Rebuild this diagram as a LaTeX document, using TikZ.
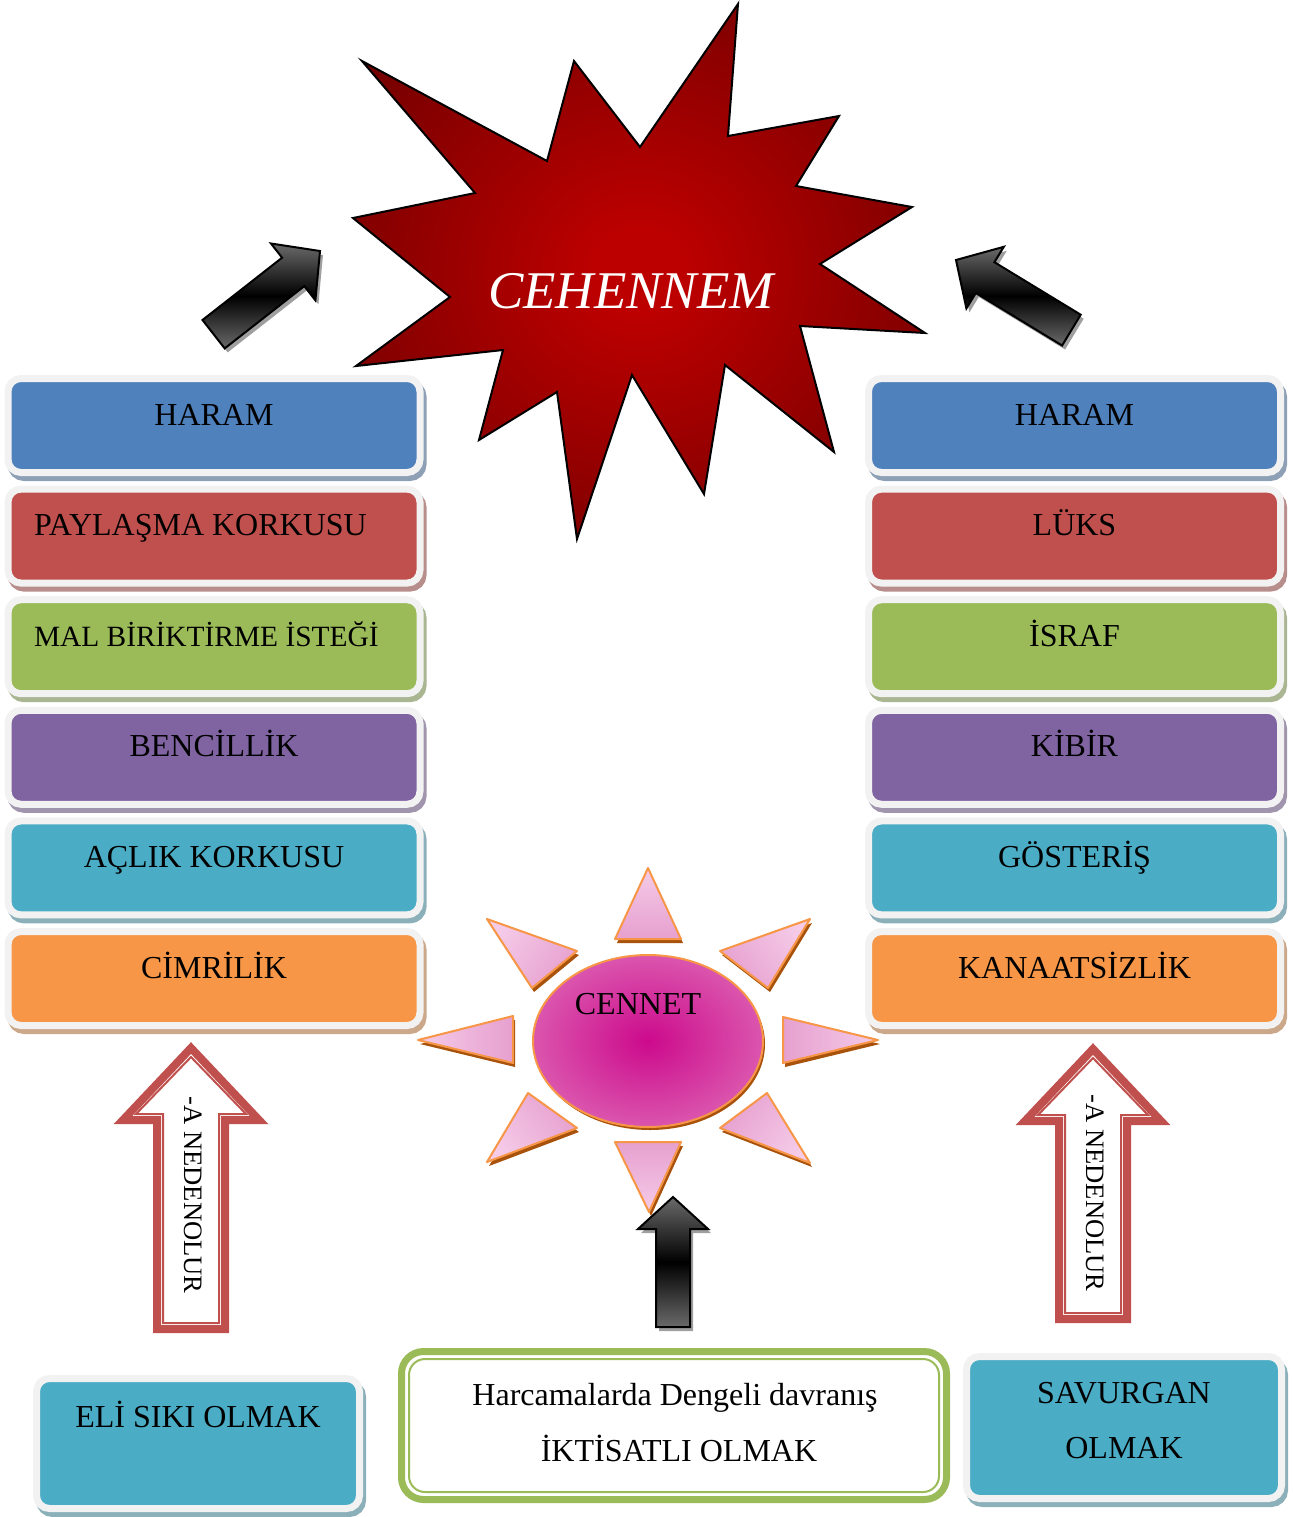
\documentclass[tikz,border=0pt]{standalone}
\usepackage{fontspec}
\setmainfont{Liberation Serif}
\usetikzlibrary{positioning}

\definecolor{mavi}{HTML}{4F81BD}
\definecolor{kirmizi}{HTML}{C0504D}
\definecolor{yesil}{HTML}{9BBB59}
\definecolor{mor}{HTML}{8064A2}
\definecolor{turkuaz}{HTML}{4BACC6}
\definecolor{turuncu}{HTML}{F79646}
\definecolor{cerceve}{HTML}{F2F2F2}
\definecolor{cehic}{HTML}{BC0000}
\definecolor{cehdis}{HTML}{6A0000}
\definecolor{cenic}{HTML}{CC0A8C}
\definecolor{cendis}{HTML}{E9A0CE}
\definecolor{ucgenac}{HTML}{F5CBE8}
\definecolor{ucgenkoyu}{HTML}{E6A0CF}
\definecolor{golgeturuncu}{HTML}{A8520C}
\definecolor{koyugri}{HTML}{6A6A6A}

\pgfdeclareradialshading{cehennemrenk}{\pgfpoint{0bp}{0bp}}{color(0bp)=(cehic); color(4bp)=(cehic); color(34bp)=(cehdis); color(50bp)=(cehdis)}
\pgfdeclareradialshading{cennetrenk}{\pgfpoint{0bp}{0bp}}{color(0bp)=(cenic); color(50bp)=(cendis)}

\newcommand\kutuyazi{\fontsize{16pt}{19pt}\selectfont}
\newcommand\okyazi{\fontsize{13.3pt}{16pt}\selectfont}
\newcommand\cehyazi{\fontsize{26.5pt}{30pt}\selectfont\itshape}
\newcommand\soldayaz[1]{\makebox[180pt][l]{#1}}

\begin{document}
\begin{tikzpicture}[x=0.5pt,y=-0.5pt,
 kutu/.style={draw=cerceve, fill=#1, line width=3.5pt, rounded corners=6.5pt, outer sep=0pt, inner sep=0pt,
  minimum width=206pt, minimum height=47pt, text height=23.25pt, text depth=23.75pt, font=\kutuyazi,
  preaction={draw=#1!50!gray!75!white, fill=#1!50!gray!75!white, transform canvas={shift={(1.5pt,-2.5pt)}}}},
 yazi/.style={font=\kutuyazi, anchor=base, inner sep=0pt},
 dengeli/.style={draw=yesil, fill=white, line width=3.5pt, rounded corners=11pt, outer sep=0pt,
  minimum width=272.5pt, minimum height=74pt},
 ucgen/.style={draw=turuncu, line width=1pt, line join=round, top color=ucgenac, bottom color=ucgenkoyu, shading angle=#1,
  preaction={fill=golgeturuncu, transform canvas={shift={(1pt,-2pt)}}}},
 siyahok/.style={draw=black, line width=1pt, line join=miter, top color=koyugri, bottom color=koyugri, middle color=black,
  preaction={fill=gray!75, transform canvas={shift={(1.5pt,-2pt)}}}},
 kalinok/.style={draw=kirmizi, line width=4pt, line join=miter, fill=white},
 inceok/.style={draw=kirmizi, line width=1pt, line join=miter},
]
\useasboundingbox (0,0) rectangle (1292,1517);

\shade[shading=cehennemrenk, draw=black, line width=1pt, line join=miter] (738,4) -- (728,136) -- (839,116) -- (796,186) -- (912,207) -- (820,264) -- (925,333) -- (800,326) -- (834,452) -- (725,365) -- (704,494) -- (632,375) -- (577,539) -- (557,392) -- (479,440) -- (503,350) -- (356,366) -- (450,297) -- (353,218) -- (475,193) -- (362,61) -- (547,161) -- (574,61) -- (640,147) -- cycle;
\node[font=\cehyazi, text=white, anchor=base, inner sep=0pt] (cehennem) at (631,308) {CEHENNEM};

\draw[siyahok] (320,251) -- (315.4,300.3) -- (304.3,286.1) -- (224.7,348.4) -- (202.5,320) -- (282.1,257.7) -- (271,243.5) -- cycle;
\draw[siyahok] (956,260) -- (1003.8,246.8) -- (994.4,262.2) -- (1080.7,314.7) -- (1062.1,345.5) -- (975.8,293) -- (966.4,308.4) -- cycle;

\node[kutu=mavi, anchor=north] (haram1) at (214,378.5) {HARAM};
\node[kutu=kirmizi, below=8.3pt of haram1] (paylasma) {\soldayaz{PAYLAŞMA KORKUSU}};
\node[kutu=yesil, below=8.3pt of paylasma, font=\fontsize{14.7pt}{18pt}\selectfont] (mal) {\soldayaz{MAL BİRİKTİRME İSTEĞİ}};
\node[kutu=mor, below=8.3pt of mal] (bencillik) {BENCİLLİK};
\node[kutu=turkuaz, below=8.3pt of bencillik] (aclik) {AÇLIK KORKUSU};
\node[kutu=turuncu, below=8.3pt of aclik] (cimrilik) {CİMRİLİK};

\node[kutu=mavi, anchor=north] (haram2) at (1074.5,378.5) {HARAM};
\node[kutu=kirmizi, below=8.3pt of haram2] (luks) {LÜKS};
\node[kutu=yesil, below=8.3pt of luks] (israf) {İSRAF};
\node[kutu=mor, below=8.3pt of israf] (kibir) {KİBİR};
\node[kutu=turkuaz, below=8.3pt of kibir] (gosteris) {GÖSTERİŞ};
\node[kutu=turuncu, below=8.3pt of gosteris] (kanaatsizlik) {KANAATSİZLİK};

\path[ucgen=0] (648,868) -- (681,939) -- (615,939) -- cycle;
\path[ucgen=-53] (810,919) -- (768,988) -- (720,951) -- cycle;
\path[ucgen=-90] (878,1040) -- (783,1063) -- (783,1017) -- cycle;
\path[ucgen=-127] (810,1163) -- (720,1128) -- (767,1093) -- cycle;
\path[ucgen=180] (649,1212) -- (615,1142) -- (681,1142) -- cycle;
\path[ucgen=127] (487,1162) -- (528,1093) -- (577,1128) -- cycle;
\path[ucgen=90] (418,1040) -- (513,1016) -- (513,1063) -- cycle;
\path[ucgen=53] (487,919) -- (577,951) -- (532,988) -- cycle;
\shadedraw[shading=cennetrenk, draw=turuncu, line width=1pt, preaction={fill=golgeturuncu, transform canvas={shift={(1pt,-1.5pt)}}}] (648,1041) ellipse [x radius=57.5pt, y radius=43pt];
\node[yazi] (cennet) at (638,1014) {CENNET};

\draw[siyahok] (673,1197) -- (708,1229) -- (690,1229) -- (690,1327) -- (656,1327) -- (656,1229) -- (638,1229) -- cycle;

\begin{scope}[shift={(191,1042)}]
 \draw[kalinok] (0,6) -- (68,78) -- (34,78) -- (34,287) -- (-34,287) -- (-34,78) -- (-68,78) -- cycle;
 \draw[inceok] (0,15) -- (55,72) -- (28,72) -- (28,281) -- (-28,281) -- (-28,72) -- (-55,72) -- cycle;
\end{scope}
\begin{scope}[shift={(1093,1043)}]
 \draw[kalinok] (0,6) -- (68,78) -- (34,78) -- (34,276) -- (-34,276) -- (-34,78) -- (-68,78) -- cycle;
 \draw[inceok] (0,15) -- (55,72) -- (28,72) -- (28,270) -- (-28,270) -- (-28,72) -- (-55,72) -- cycle;
\end{scope}
\node[font=\okyazi, rotate=-90, anchor=base, inner sep=0pt] (nedenolur1) at (184,1195) {-A NEDENOLUR};
\node[font=\okyazi, rotate=-90, anchor=base, inner sep=0pt] (nedenolur2) at (1086,1193) {-A NEDENOLUR};

\node[kutu=turkuaz, anchor=north, minimum width=161.5pt, minimum height=65pt, text height=24.25pt, text depth=40.75pt] (elisiki) at (198,1378.5) {ELİ SIKI OLMAK};

\node[dengeli, anchor=north] (dengeli) at (674,1351.5) {};
\draw[yesil, line width=1pt, rounded corners=8pt] ([shift={(3.75pt,-3.75pt)}]dengeli.north west) rectangle ([shift={(-3.75pt,3.75pt)}]dengeli.south east);
\node[yazi] (dengeli1) at (675,1405) {Harcamalarda Dengeli davranış};
\node[yazi] (dengeli2) at (679,1461) {İKTİSATLI OLMAK};

\node[kutu=turkuaz, anchor=north, minimum width=157.5pt, minimum height=71pt] (savurgan) at (1124,1356.5) {};
\node[yazi] (savurgan1) at (1124,1403) {SAVURGAN};
\node[yazi] (savurgan2) at (1124,1458) {OLMAK};
\end{tikzpicture}
\end{document}
